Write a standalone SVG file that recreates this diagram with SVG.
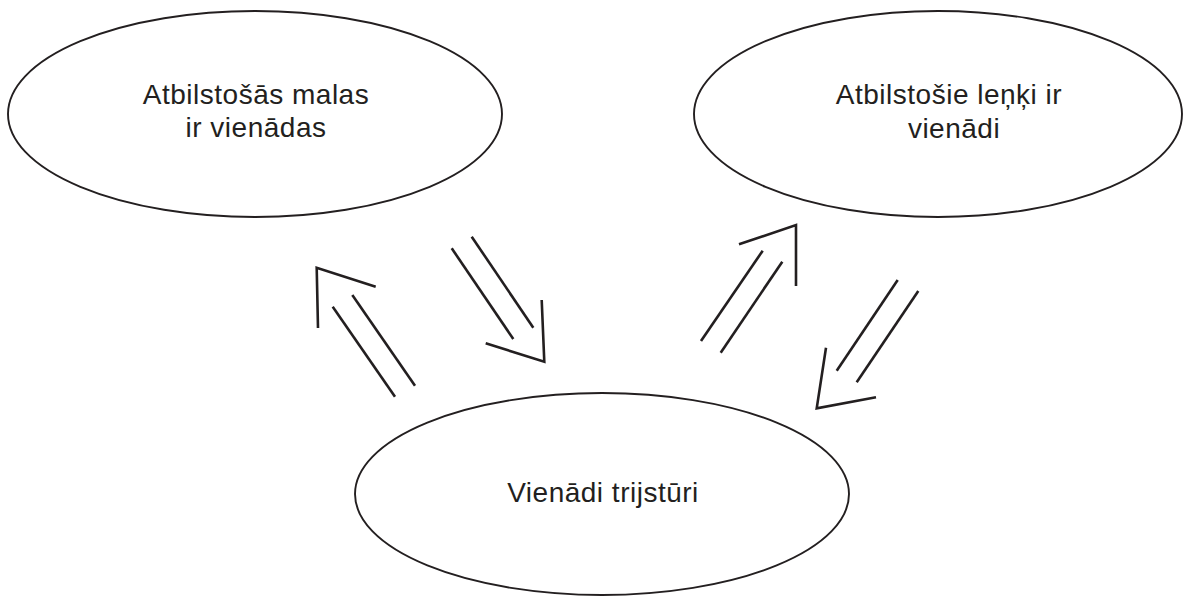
<svg xmlns="http://www.w3.org/2000/svg" width="1183" height="597" viewBox="0 0 1183 597">
  <style>
    .node { fill: #ffffff; stroke: #231f20; stroke-width: 1.9; }
    .label { font-family: "Liberation Sans", Arial, sans-serif; font-size: 28px; letter-spacing: 0.5px; fill: #231f20; text-anchor: middle; }
    .conn line, .conn polyline { fill: none; stroke: #231f20; stroke-width: 2.6; stroke-linecap: butt; stroke-linejoin: miter; }
  </style>
  <rect width="1183" height="597" fill="#ffffff"/>

  <g id="node-malas">
    <ellipse class="node" cx="255" cy="114" rx="247" ry="103"/>
    <text class="label" x="256" y="104">Atbilstošās malas</text>
    <text class="label" x="256" y="137">ir vienādas</text>
  </g>

  <g id="node-lenki">
    <ellipse class="node" cx="938" cy="114" rx="244" ry="103"/>
    <text class="label" x="949" y="104">Atbilstošie leņķi ir</text>
    <text class="label" x="954" y="138">vienādi</text>
  </g>

  <g id="node-trijsturi">
    <ellipse class="node" cx="602" cy="494" rx="247" ry="101"/>
    <text class="label" x="603" y="502">Vienādi trijstūri</text>
  </g>

  <g id="connectors" class="conn">
    <!-- trijstūri -> malas -->
    <line x1="395" y1="396.7" x2="332.7" y2="306.7"/>
    <line x1="415" y1="385.7" x2="352.3" y2="295"/>
    <polyline points="318,328 316.7,267.7 375.7,286.7"/>

    <!-- malas -> trijstūri -->
    <line x1="451.7" y1="248.3" x2="513.3" y2="339"/>
    <line x1="471.7" y1="236.7" x2="533.3" y2="327.7"/>
    <polyline points="541.7,300 544.3,361.7 485.7,343.3"/>

    <!-- trijstūri -> leņķi -->
    <line x1="701" y1="341" x2="762.7" y2="250.7"/>
    <line x1="720.7" y1="352.7" x2="782.3" y2="261.7"/>
    <polyline points="739,244.3 796,225 796,286"/>

    <!-- leņķi -> trijstūri -->
    <line x1="897.7" y1="280" x2="836.7" y2="370.7"/>
    <line x1="918.3" y1="291" x2="856.7" y2="382.3"/>
    <polyline points="826,347.7 816.7,408.3 876,397.3"/>
  </g>
</svg>
